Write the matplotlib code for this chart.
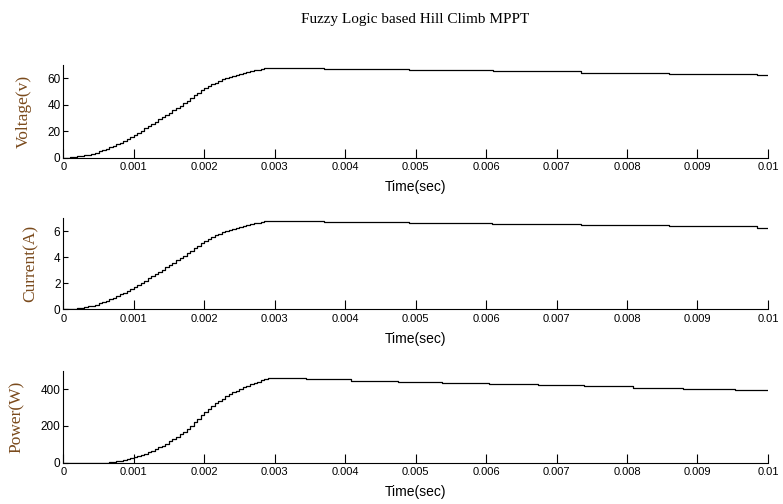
import numpy as np
import matplotlib
matplotlib.use("Agg")
import matplotlib.pyplot as plt

title = "Fuzzy Logic based Hill Climb MPPT"
x_ticks = [0, 0.001, 0.002, 0.003, 0.004, 0.005, 0.006, 0.007, 0.008, 0.009, 0.01]
x_tick_labels = ["0", "0.001", "0.002", "0.003", "0.004", "0.005",
                 "0.006", "0.007", "0.008", "0.009", "0.01"]

# rising part, one sample every 50 us (stair steps of the simulation)
dt = 5e-5
volt_rise = [0, 0, 0.2, 0.5, 1.0, 1.4, 2.0, 2.4, 3.0, 3.8,          # 0 .. 0.00045
             4.8, 5.8, 6.8, 7.9, 9.0, 10.2, 11.5, 12.8, 14.2, 15.7,  # 0.0005 ..
             17.3, 18.9, 20.5, 22.1, 23.8, 25.5, 27.2, 28.9, 30.6, 32.3,  # 0.001 ..
             34.0, 35.8, 37.6, 39.4, 41.2, 43.1, 45.0, 47.0, 49.0, 50.8,  # 0.0015 ..
             52.5, 54.0, 55.5, 56.8, 58.0, 59.1, 60.2, 61.1, 62.0, 62.7,  # 0.002 ..
             63.4, 64.1, 64.8, 65.4, 66.0, 66.5, 67.0, 67.5]              # 0.0025 ..
curr_rise = [0, 0, 0.02, 0.05, 0.10, 0.14, 0.20, 0.24, 0.30, 0.38,
             0.48, 0.58, 0.68, 0.79, 0.90, 1.02, 1.15, 1.28, 1.42, 1.57,
             1.73, 1.89, 2.05, 2.21, 2.38, 2.55, 2.72, 2.89, 3.06, 3.23,
             3.40, 3.58, 3.76, 3.94, 4.12, 4.31, 4.50, 4.70, 4.90, 5.08,
             5.25, 5.40, 5.55, 5.68, 5.80, 5.91, 6.02, 6.11, 6.20, 6.27,
             6.34, 6.41, 6.48, 6.54, 6.60, 6.65, 6.70, 6.76]
power_rise = [0, 0, 0, 0, 0, 0, 0, 0, 0, 0,
              0, 0, 0, 3.0, 5.0, 8.0, 11.5, 15.0, 19.0, 24.0,
              29.9, 35.7, 42.0, 48.8, 56.6, 65.0, 74.0, 83.5, 93.6, 104.3,
              115.6, 128.2, 141.4, 155.2, 169.7, 185.8, 202.5, 220.9, 240.1, 258.1,
              275.6, 291.6, 308.0, 322.6, 336.4, 349.1, 362.4, 373.3, 384.4, 393.2,
              401.9, 410.9, 419.9, 427.7, 435.6, 442.2, 448.9, 455.6]

# slowly falling plateau: (switch time, level)
volt_step_t = [0.0029, 0.0037, 0.0049, 0.0061, 0.00735, 0.0086, 0.00984]
volt_step_v = [68.0, 67.0, 66.2, 65.3, 64.3, 63.4, 62.5]
curr_step_t = [0.00285, 0.0037, 0.0049, 0.00609, 0.00735, 0.00859, 0.00984]
curr_step_v = [6.82, 6.74, 6.67, 6.56, 6.48, 6.38, 6.28]
power_step_t = [0.0029, 0.00344, 0.00409, 0.00475, 0.00538, 0.00604,
                0.00674, 0.00739, 0.00808, 0.00879, 0.00953]
power_step_v = [461, 454, 447, 440, 433, 427, 422, 416, 409, 402, 394]
t_end = 0.01

panels = [
    ("Voltage(v)", volt_rise, volt_step_t, volt_step_v, (0, 70), [0, 20, 40, 60]),
    ("Current(A)", curr_rise, curr_step_t, curr_step_v, (0, 7), [0, 2, 4, 6]),
    ("Power(W)", power_rise, power_step_t, power_step_v, (0, 500), [0, 200, 400]),
]

tick_font = ["Liberation Sans", "DejaVu Sans"]
serif_font = ["Liberation Serif", "DejaVu Serif"]
label_color = "#7a4a1c"

fig = plt.figure(figsize=(7.83, 5.04), dpi=100)
boxes = [(0.0808, 0.687, 0.900, 0.184),
         (0.0808, 0.386, 0.900, 0.181),
         (0.0808, 0.082, 0.900, 0.182)]

for (ylab, rise, st, sv, ylim, yt), box in zip(panels, boxes):
    ax = fig.add_axes(box)
    t_rise = np.arange(len(rise)) * dt
    keep = t_rise < st[0]
    t = np.concatenate([t_rise[keep], st, [t_end]])
    y = np.concatenate([np.array(rise)[keep], sv, [sv[-1]]])
    ax.plot(t, y, color="black", lw=0.9, drawstyle="steps-post")
    ax.set_xlim(0, 0.01)
    ax.set_ylim(*ylim)
    ax.set_xticks(x_ticks)
    ax.set_xticklabels(x_tick_labels, family=tick_font, fontsize=8)
    ax.set_yticks(yt)
    ax.set_yticklabels([str(v) for v in yt], family=tick_font, fontsize=8.5)
    ax.tick_params(axis="x", direction="in", length=6.5, width=0.8, pad=3)
    ax.tick_params(axis="y", direction="in", length=3.6, width=0.8, pad=2)
    for side in ("top", "right"):
        ax.spines[side].set_visible(False)
    for side in ("left", "bottom"):
        ax.spines[side].set_linewidth(0.8)
    ax.set_xlabel("Time(sec)", family=tick_font, fontsize=10, labelpad=6)
    ax.set_ylabel(ylab, family=serif_font, fontsize=12.5, color=label_color, labelpad=11)
    ax.patch.set_alpha(0)

fig.text(0.53, 0.962, title, ha="center", va="center", family=serif_font, fontsize=11)

fig.savefig("out.png", dpi=100)
